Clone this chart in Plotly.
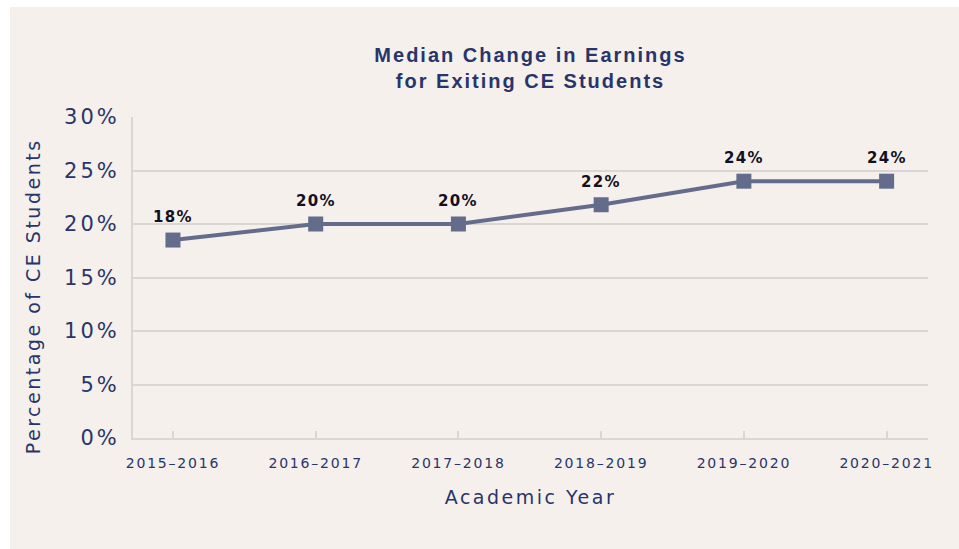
import plotly.graph_objects as go

years = ["2015–2016", "2016–2017", "2017–2018", "2018–2019", "2019–2020", "2020–2021"]
values = [18.5, 20.0, 20.0, 21.8, 24.0, 24.0]
labels = ["18%", "20%", "20%", "22%", "24%", "24%"]
y_ticks = [0, 5, 10, 15, 20, 25, 30]
y_tick_text = ["0%", "5%", "10%", "15%", "20%", "25%", "30%"]

BG = "#F5F0EC"
NAVY = "#28356A"
LINE = "#646C8C"
GRID = "#DAD6D3"

L, T = 133, 117
W, H = 959, 549
pw, ph = 928 - 133, 438 - 117
R, B = W - L - pw, H - T - ph

fig = go.Figure()
fig.add_trace(go.Scatter(
    x=years, y=values, mode="lines+markers",
    line=dict(color=LINE, width=4),
    marker=dict(symbol="square", size=15, color=LINE),
    showlegend=False, hoverinfo="x+y",
))
for yr, v, lab in zip(years, values, labels):
    fig.add_annotation(x=yr, y=v, text=lab, showarrow=False, yshift=23,
                       font=dict(family="DejaVu Sans", size=15, color="#111122", weight="bold"))

# y-axis title as annotation (sits slightly below plot centre in the reference)
fig.add_annotation(xref="paper", yref="paper", x=(33 - L) / pw, y=1 - (297 - T) / ph,
                   xanchor="center", yanchor="middle", textangle=-90, showarrow=False,
                   text="Percentage of CE Students",
                   font=dict(family="DejaVu Sans", size=19, color=NAVY))

fig.add_shape(type="rect", xref="paper", yref="paper", layer="below",
              x0=(10 - L) / pw, x1=(W - L + 20) / pw,
              y0=-(B + 20) / ph, y1=1 + (T - 7) / ph,
              fillcolor=BG, line=dict(width=0))

fig.update_layout(
    width=W, height=H,
    margin=dict(l=L, r=R, t=T, b=B),
    paper_bgcolor="white", plot_bgcolor=BG,
    title=dict(text="Median Change in Earnings<br>for Exiting CE Students",
               x=(L + pw / 2) / W, xanchor="center", y=1 - 62 / H, yanchor="top",
               font=dict(family="Liberation Sans", size=20, color=NAVY, weight="bold")),
    xaxis=dict(range=[-0.28, 5.29], showgrid=False, showline=True, linecolor=GRID, linewidth=2,
               ticks="inside", ticklen=7, tickcolor=GRID, tickwidth=2, ticklabelstandoff=11,
               tickfont=dict(family="DejaVu Sans", size=14, color=NAVY),
               title=dict(text="Academic Year", font=dict(family="DejaVu Sans", size=19, color=NAVY), standoff=21),
               zeroline=False),
    yaxis=dict(range=[0, 30], tickvals=y_ticks, ticktext=y_tick_text, showgrid=True,
               gridcolor=GRID, gridwidth=1.5, showline=True, linecolor=GRID, linewidth=2,
               tickfont=dict(family="DejaVu Sans", size=21, color=NAVY), ticks="", ticklabelstandoff=7,
               zeroline=False),
)

css = ("html,body{margin:0;padding:0;overflow:hidden}"
       ".ytick text{letter-spacing:3px}"
       ".xtick text{letter-spacing:1.8px}"
       ".gtitle{letter-spacing:2px}"
       ".g-xtitle text{letter-spacing:2.5px}"
       ".annotation text{letter-spacing:1.3px}"
       ".annotation[data-index=\"6\"] text{letter-spacing:2.5px}")
post = "var s=document.createElement('style');s.textContent='" + css + "';document.head.appendChild(s);"

fig.write_html("out.html", post_script=post, config={"displayModeBar": False})
